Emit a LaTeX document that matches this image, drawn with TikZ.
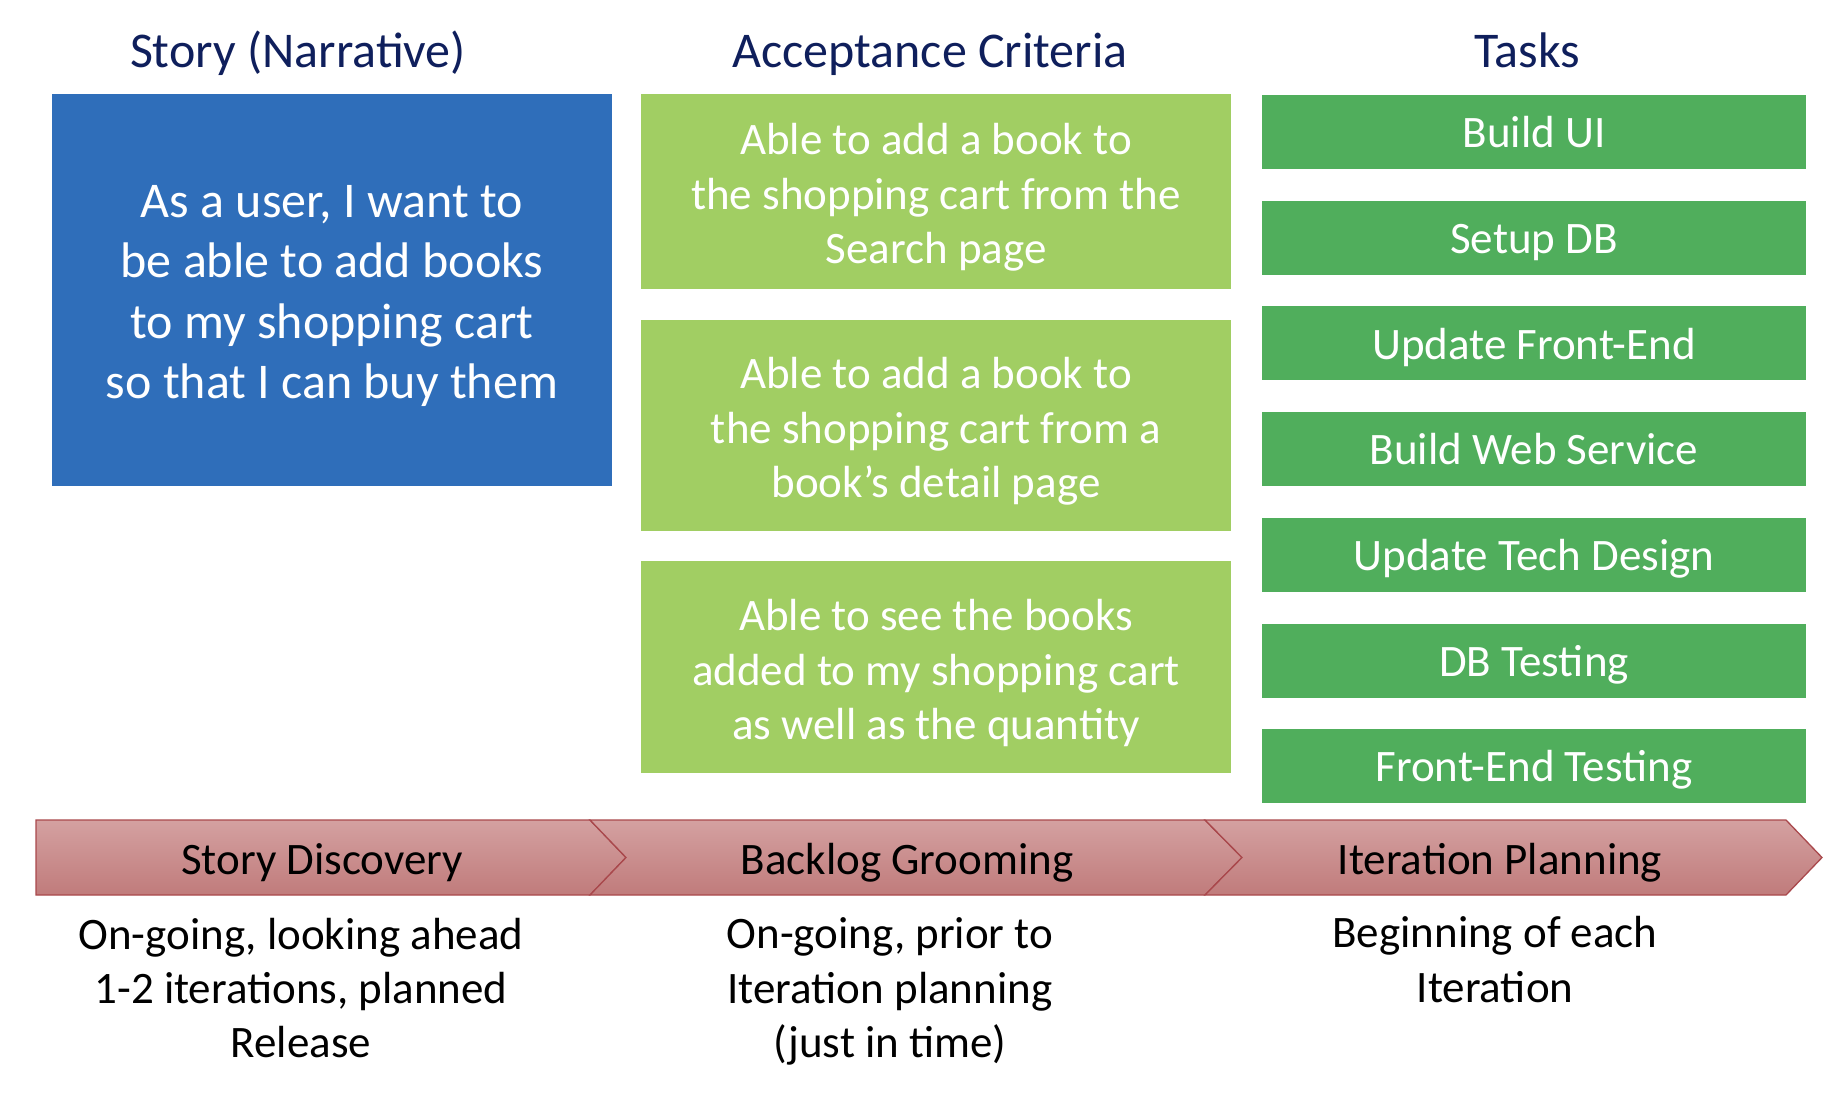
\documentclass[tikz,border=0pt]{standalone}
\usepackage{fontspec}
\setmainfont{Carlito}
\definecolor{navy}{HTML}{0F1F5C}
\definecolor{storyblue}{HTML}{2F6EBA}
\definecolor{acgreen}{HTML}{A1CE63}
\definecolor{taskgreen}{HTML}{50AE5C}
\definecolor{chevtop}{HTML}{D4A1A1}
\definecolor{chevbot}{HTML}{C07B7B}
\definecolor{chevline}{HTML}{A9484C}
\begin{document}
\begin{tikzpicture}[x=1pt,y=-1pt,
  title/.style={text=navy,font=\fontsize{50}{60}\selectfont,inner sep=0pt,
    text height=35pt,text depth=12pt},
  storybox/.style={fill=storyblue,inner sep=0pt,minimum width=560pt,minimum height=392pt},
  storytext/.style={text=white,align=center,inner sep=0pt,
    font=\fontsize{50}{60.5}\selectfont},
  acbox/.style={fill=acgreen,inner sep=0pt,minimum width=590pt},
  actext/.style={text=white,align=center,inner sep=0pt,
    font=\fontsize{45}{54.5}\selectfont},
  taskbox/.style={fill=taskgreen,text=white,inner sep=0pt,
    font=\fontsize{45}{54}\selectfont,minimum width=544pt,minimum height=74pt,
    text height=31.5pt,text depth=0pt},
  chev/.style={draw=chevline,line width=1.3pt,top color=chevtop,bottom color=chevbot},
  chevlabel/.style={text=black,font=\fontsize{45}{54}\selectfont,inner sep=0pt},
  note/.style={text=black,align=center,inner sep=0pt,font=\fontsize{45}{54.3}\selectfont}]
\useasboundingbox (0,0) rectangle (1842,1096);

% titles
\node[title] (t1) at (298,55.5) {Story (Narrative)};
\node[title] (t2) at (930,55.5) {Acceptance Criteria};
\node[title] (t3) at (1527,55.5) {Tasks};

% story
\node[storybox] (story) at (332,290) {};
\node[storytext] (storyt) at ([yshift=-6pt]story.center)
  {As a user, I want to\\be able to add books\\to my shopping cart\\so that I can buy them};

% acceptance criteria
\node[acbox,minimum height=195pt] (ac1) at (936,191.5) {};
\node[acbox,minimum height=211pt] (ac2) at (936,425.5) {};
\node[acbox,minimum height=212pt] (ac3) at (936,667) {};
\node[actext] (ac1t) at ([yshift=-6pt]ac1.center)
  {Able to add a book to\\the shopping cart from the\\Search page};
\node[actext] (ac2t) at ([yshift=-6pt]ac2.center)
  {Able to add a book to\\the shopping cart from a\\book’s detail page};
\node[actext] (ac3t) at ([yshift=-6pt]ac3.center)
  {Able to see the books\\added to my shopping cart\\as well as the quantity};

% tasks
\node[taskbox] (k1) at (1534,132) {Build UI};
\node[taskbox] (k2) at (1534,237.7) {Setup DB};
\node[taskbox] (k3) at (1534,343.4) {Update Front-End};
\node[taskbox] (k4) at (1534,449.1) {Build Web Service};
\node[taskbox] (k5) at (1534,554.8) {Update Tech Design};
\node[taskbox] (k6) at (1534,660.5) {DB Testing};
\node[taskbox] (k7) at (1534,766.2) {Front-End Testing};

% chevrons
\path[chev] (36,820) -- (590,820) -- (626,857.5) -- (590,895) -- (36,895) -- cycle;
\path[chev] (590,820) -- (1205,820) -- (1242,857.5) -- (1205,895) -- (590,895) -- (626,857.5) -- cycle;
\path[chev] (1205,820) -- (1786,820) -- (1822,857.5) -- (1786,895) -- (1205,895) -- (1242,857.5) -- cycle;
\node[chevlabel] (c1) at (322,862.5) {Story Discovery};
\node[chevlabel] (c2) at (907,862.5) {Backlog Grooming};
\node[chevlabel] (c3) at (1500,862.5) {Iteration Planning};

% notes
\node[note] (n1) at (301,988) {On-going, looking ahead\\1-2 iterations, planned\\Release};
\node[note] (n2) at (890,991.5) {On-going, prior to\\Iteration planning\\(just in time)};
\node[note] (n3) at (1495,959.5) {Beginning of each\\Iteration};
\end{tikzpicture}
\end{document}
